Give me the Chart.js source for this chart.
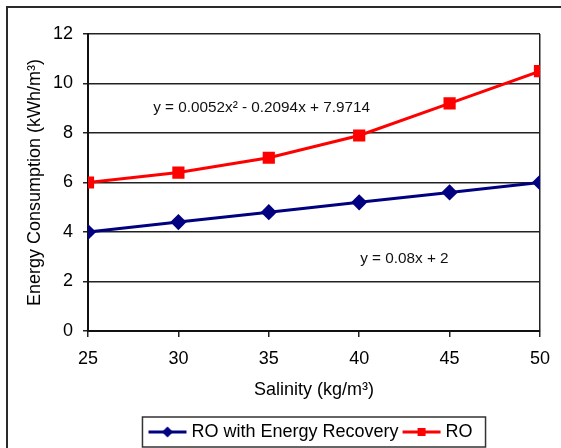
<!DOCTYPE html>
<html>
<head>
<meta charset="utf-8">
<script src="https://cdn.jsdelivr.net/npm/chart.js@4.4.1/dist/chart.umd.min.js"></script>
<style>
  html, body { margin: 0; padding: 0; background: #fff; }
  #wrap { position: relative; width: 561px; height: 448px; overflow: hidden; }
  canvas { position: absolute; left: 0; top: 0; }
</style>
</head>
<body>
<div id="wrap"><canvas id="c" width="561" height="448"></canvas></div>
<script>
const salinity = [25, 30, 35, 40, 45, 50];
const roEnergyRecovery = [4.0, 4.4, 4.8, 5.2, 5.6, 6.0];
const roPlain = [6.0, 6.4, 7.0, 7.9, 9.2, 10.5];
const seriesNames = ['RO with Energy Recovery', 'RO'];
const equationLabels = [
  { text: 'y = 0.0052x² - 0.2094x + 7.9714', x: 34.6, y: 9.0 },
  { text: 'y = 0.08x + 2', x: 42.5, y: 2.92 }
];
const FONT = 'Liberation Sans, Arial, sans-serif';

function legendIcon(color, shape) {
  const cv = document.createElement('canvas');
  cv.width = 40; cv.height = 14;
  const g = cv.getContext('2d');
  g.strokeStyle = color; g.lineWidth = 3;
  g.beginPath(); g.moveTo(1, 7); g.lineTo(39, 7); g.stroke();
  g.fillStyle = color;
  if (shape === 'diamond') {
    g.beginPath(); g.moveTo(20, 1.5); g.lineTo(25.5, 7); g.lineTo(20, 12.5); g.lineTo(14.5, 7); g.closePath(); g.fill();
  } else {
    g.fillRect(16, 3, 8, 8);
  }
  return cv;
}
const icons = [legendIcon('#000080', 'diamond'), legendIcon('#ff0000', 'square')];

const framePlugin = {
  id: 'frame',
  afterLayout(chart) {
    const lg = chart.legend;
    if (lg) {
      lg.left += 32; lg.right += 32;
      lg.top += 10; lg.bottom += 10;
    }
  },
  beforeDraw(chart) {
    const ctx = chart.ctx;
    ctx.save();
    ctx.fillStyle = '#fff';
    ctx.fillRect(0, 0, chart.width, chart.height);
    ctx.strokeStyle = '#2a2a2a';
    ctx.lineWidth = 2;
    ctx.strokeRect(7, 7, 700, 700);
    ctx.restore();
  },
  afterDraw(chart) {
    const ctx = chart.ctx;
    const xs = chart.scales.x, ys = chart.scales.y;
    ctx.save();
    ctx.fillStyle = '#111';
    ctx.font = '15.3px ' + FONT;
    ctx.textAlign = 'center';
    ctx.textBaseline = 'middle';
    equationLabels.forEach(l => {
      ctx.fillText(l.text, xs.getPixelForValue(l.x), ys.getPixelForValue(l.y));
    });
    const boxes = chart.legend.legendHitBoxes;
    if (boxes && boxes.length) {
      let minX = Infinity, maxX = -Infinity, minY = Infinity, maxY = -Infinity;
      boxes.forEach(b => {
        minX = Math.min(minX, b.left); maxX = Math.max(maxX, b.left + b.width);
        minY = Math.min(minY, b.top); maxY = Math.max(maxY, b.top + b.height);
      });
      ctx.strokeStyle = '#333';
      ctx.lineWidth = 1.5;
      ctx.strokeRect(minX - 10, minY - 6, (maxX - minX) + 23, (maxY - minY) + 12);
    }
    ctx.restore();
  }
};

new Chart(document.getElementById('c'), {
  type: 'line',
  data: {
    datasets: [
      {
        label: seriesNames[0],
        data: salinity.map((s, i) => ({ x: s, y: roEnergyRecovery[i] })),
        borderColor: '#000080', backgroundColor: '#000080',
        borderWidth: 3, pointStyle: 'rectRot', pointRadius: 6, pointHoverRadius: 6,
        tension: 0
      },
      {
        label: seriesNames[1],
        data: salinity.map((s, i) => ({ x: s, y: roPlain[i] })),
        borderColor: '#ff0000', backgroundColor: '#ff0000',
        borderWidth: 3, pointStyle: 'rect', pointRadius: 6.5, pointHoverRadius: 6.5,
        tension: 0
      }
    ]
  },
  options: {
    responsive: false,
    animation: false,
    devicePixelRatio: 1,
    layout: { padding: { left: 20, right: 20, top: 34, bottom: 7 } },
    plugins: {
      tooltip: { enabled: false },
      legend: {
        position: 'bottom',
        labels: {
          usePointStyle: true,
          pointStyleWidth: 30,
          padding: 8,
          color: '#000',
          font: { family: FONT, size: 18 },
          generateLabels(chart) {
            return chart.data.datasets.map((ds, i) => ({
              text: ds.label, pointStyle: icons[i], fillStyle: ds.borderColor,
              strokeStyle: ds.borderColor, lineWidth: 0, datasetIndex: i, hidden: false, fontColor: '#000'
            }));
          }
        }
      }
    },
    scales: {
      x: {
        type: 'linear', min: 25, max: 50,
        afterFit(s) { s.height = 74; },
        ticks: { stepSize: 5, color: '#000', padding: 11, font: { family: FONT, size: 18 } },
        grid: {
          color: c => (c.tick && c.tick.value === 50 ? '#222' : 'rgba(0,0,0,0)'),
          tickColor: '#222', tickLength: 6, lineWidth: 1.5
        },
        border: { color: '#111', width: 2 },
        title: { display: true, text: 'Salinity (kg/m³)', color: '#000', font: { family: FONT, size: 18 } }
      },
      y: {
        min: 0, max: 12,
        afterFit(s) { s.width = 68; },
        ticks: { stepSize: 2, color: '#000', padding: 10, font: { family: FONT, size: 18 } },
        grid: { color: '#222', tickColor: '#222', tickLength: 5, lineWidth: 1.5 },
        border: { color: '#111', width: 2 },
        title: { display: true, text: 'Energy Consumption (kWh/m³)', color: '#000', font: { family: FONT, size: 18 } }
      }
    }
  },
  plugins: [framePlugin]
});
</script>
</body>
</html>
